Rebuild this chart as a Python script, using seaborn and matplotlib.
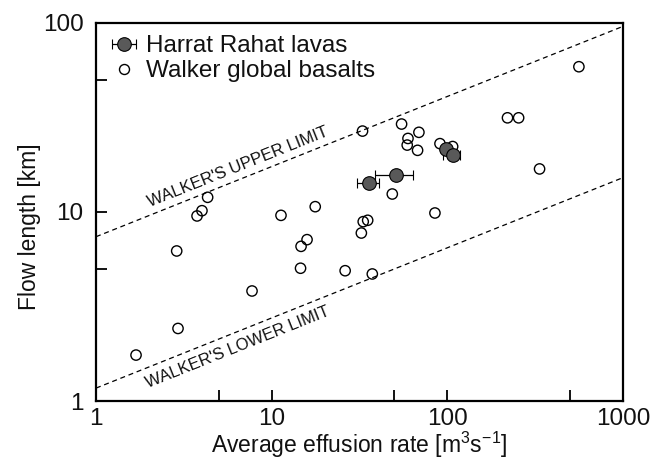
import numpy as np
import pandas as pd
import matplotlib
matplotlib.use("Agg")
import matplotlib.pyplot as plt
import seaborn as sns
from matplotlib.ticker import FixedLocator, NullFormatter
from matplotlib.lines import Line2D

# Walker global basalts: effusion rate [m3/s], flow length [km]
walker_rate = [4.32, 4.01, 3.76, 2.88, 7.73, 2.93, 1.69, 32.9, 54.9, 68.9, 59.7,
               59.1, 67.7, 90.8, 107.2, 48.6, 17.7, 11.3, 35.2, 33.2, 32.4, 15.9,
               14.7, 85.0, 14.6, 26.2, 37.4, 561, 220, 254.6, 335]
walker_length = [11.96, 10.16, 9.53, 6.22, 3.82, 2.42, 1.75, 26.8, 29.2, 26.4, 24.5,
                 22.6, 21.2, 23.0, 22.2, 12.45, 10.67, 9.6, 9.04, 8.89, 7.74, 7.14,
                 6.58, 9.88, 5.04, 4.89, 4.70, 58.7, 31.5, 31.5, 16.9]

# Harrat Rahat lavas
rahat_rate = [98.2, 107.2, 51.0, 35.9]
rahat_length = [21.6, 20.1, 15.6, 14.3]
rahat_rate_low = [93.0, 94.8, 38.9, 30.7]
rahat_rate_high = [104.0, 117.9, 63.5, 41.0]

# Walker's limits
limit_rate = [1, 1000]
upper_limit = [7.4, 96]
lower_limit = [1.17, 15.2]

sns.set_theme(style="ticks")
plt.rcParams['font.family'] = ['Liberation Sans', 'DejaVu Sans']
plt.rcParams['mathtext.fontset'] = 'custom'
plt.rcParams['mathtext.rm'] = 'Liberation Sans'
plt.rcParams['mathtext.default'] = 'regular'
plt.rcParams['text.color'] = '#111111'
plt.rcParams['axes.labelcolor'] = '#111111'
plt.rcParams['xtick.labelcolor'] = '#111111'
plt.rcParams['ytick.labelcolor'] = '#111111'

W, H = 662, 462
fig = plt.figure(figsize=(W / 100, H / 100), dpi=100)
ax = fig.add_axes([96 / W, 1 - 401 / H, (623 - 96) / W, (401 - 23) / H])
ax.set_xscale('log')
ax.set_yscale('log')
ax.set_xlim(1, 1000)
ax.set_ylim(1, 100)

# limits lines
ax.plot(limit_rate, upper_limit, ls=(0, (4, 3)), color='black', lw=0.9, zorder=1)
ax.plot(limit_rate, lower_limit, ls=(0, (4, 3)), color='black', lw=0.9, zorder=1)

# Walker points
walker_df = pd.DataFrame({'rate': walker_rate, 'length': walker_length})
sns.scatterplot(data=walker_df, x='rate', y='length', ax=ax, marker='o', s=55,
                facecolors='none', edgecolor='black', linewidth=1.0, zorder=2,
                legend=False)

# Harrat Rahat points
rr = np.array(rahat_rate)
xerr = [rr - np.array(rahat_rate_low), np.array(rahat_rate_high) - rr]
eb = ax.errorbar(rahat_rate, rahat_length, xerr=xerr, fmt='o', ms=9.8,
                 mfc='#595959', mec='black', mew=0.8, ecolor='black',
                 elinewidth=0.9, capsize=3.5, capthick=0.9, zorder=3)

ax.set_xlim(1, 1000)
ax.set_ylim(1, 100)

# ticks
ax.xaxis.set_major_locator(FixedLocator([1, 10, 100, 1000]))
ax.xaxis.set_minor_locator(FixedLocator([5, 50, 500]))
ax.yaxis.set_major_locator(FixedLocator([1, 10, 100]))
ax.yaxis.set_minor_locator(FixedLocator([5, 50]))
ax.set_xticklabels(['1', '10', '100', '1000'])
ax.set_yticklabels(['1', '10', '100'])
ax.xaxis.set_minor_formatter(NullFormatter())
ax.yaxis.set_minor_formatter(NullFormatter())
ax.tick_params(which='both', direction='in', length=8, width=1.3, color='black',
               top=False, right=False)
ax.tick_params(axis='x', which='major', labelsize=17.5, pad=5, labelcolor='#111111')
ax.tick_params(axis='y', which='major', labelsize=17.5, pad=9, labelcolor='#111111')
for s in ax.spines.values():
    s.set_linewidth(1.6)
    s.set_color('black')
    s.set_visible(True)

ax.set_xlabel('Average effusion rate [m$^{3}$s$^{-1}$]', fontsize=16.5, labelpad=0, color='#111111')
ax.set_ylabel('Flow length [km]', fontsize=16.5, color='#111111')
ax.yaxis.set_label_coords(-0.105, 0.46)

# rotated labels along limits
p1 = ax.transData.transform((1, upper_limit[0]))
p2 = ax.transData.transform((1000, upper_limit[1]))
ang_u = np.degrees(np.arctan2(p2[1] - p1[1], p2[0] - p1[0]))
q1 = ax.transData.transform((1, lower_limit[0]))
q2 = ax.transData.transform((1000, lower_limit[1]))
ang_l = np.degrees(np.arctan2(q2[1] - q1[1], q2[0] - q1[0]))
ax.text(6.4, 17.2, "WALKER'S UPPER LIMIT", rotation=ang_u, rotation_mode='anchor',
        ha='center', va='center', fontsize=12, color='#111111')
ax.text(6.4, 1.93, "WALKER'S LOWER LIMIT", rotation=ang_l, rotation_mode='anchor',
        ha='center', va='center', fontsize=12, color='#111111')

# legend
walker_handle = Line2D([], [], marker='o', ls='none', mfc='none', mec='black',
                       mew=1.0, ms=7.2)
leg = ax.legend([eb, walker_handle], ['Harrat Rahat lavas', 'Walker global basalts'],
                loc='upper left', frameon=False, fontsize=17.5, handlelength=1.3,
                handletextpad=0.25, labelspacing=0.12, borderaxespad=0.3,
                borderpad=0.2, labelcolor='#111111')

fig.savefig('out.png', dpi=100)
